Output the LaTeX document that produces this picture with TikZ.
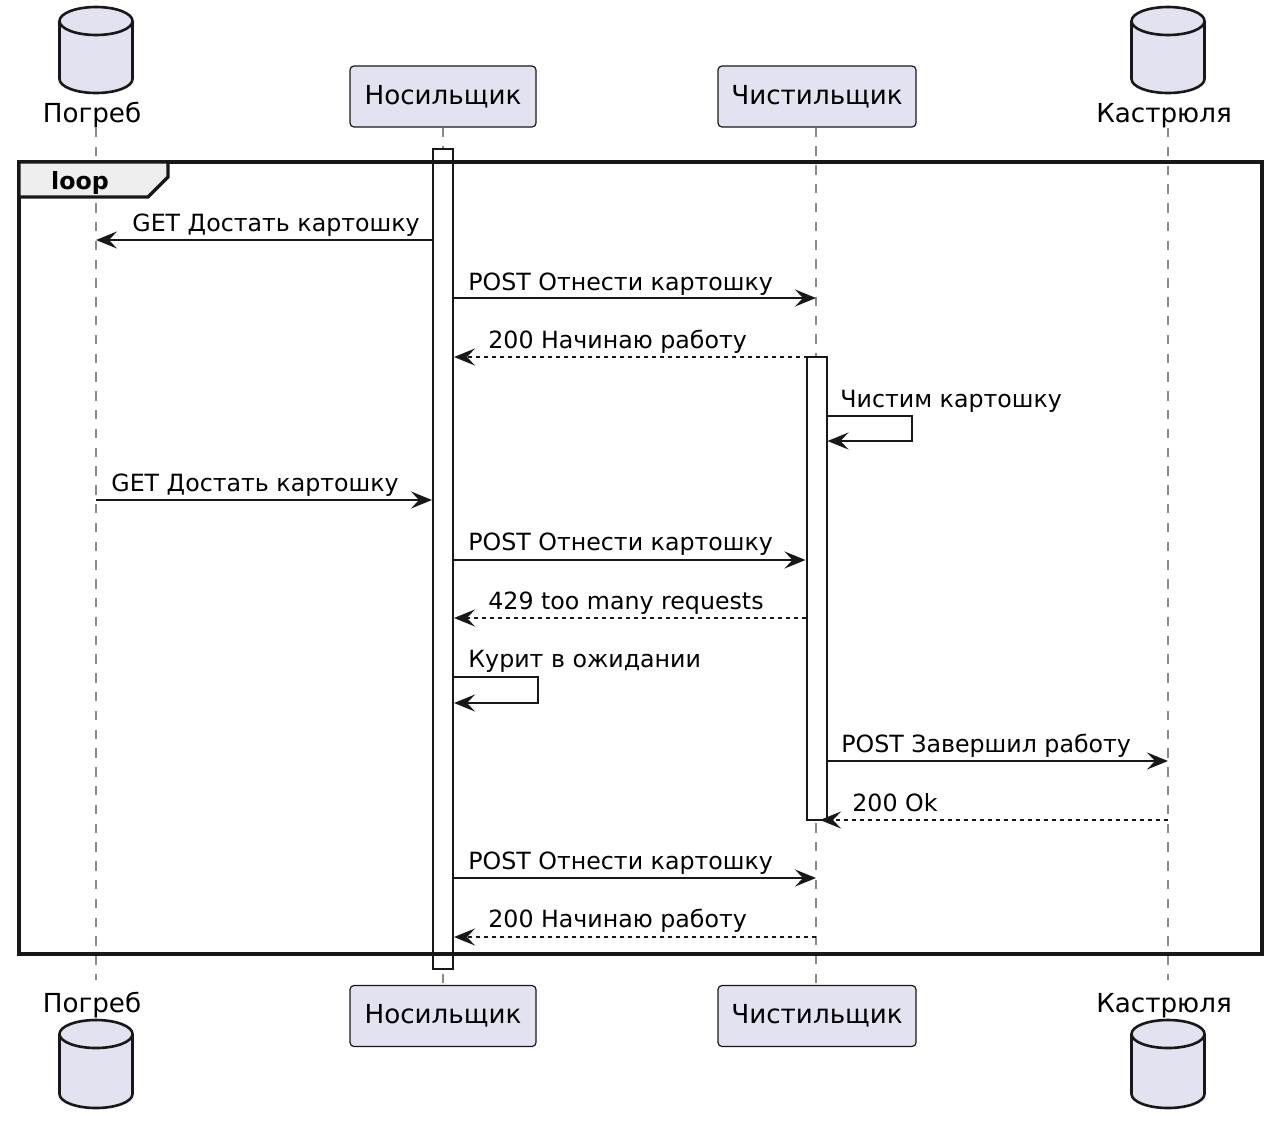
\documentclass[tikz,border=0pt]{standalone}
\usepackage{fontspec}
\setmainfont{DejaVu Sans}
\usetikzlibrary{arrows.meta,positioning}

\definecolor{partfill}{HTML}{E2E2F0}
\definecolor{linecol}{HTML}{181818}
\definecolor{lifegray}{HTML}{8A8A8A}
\definecolor{tabfill}{HTML}{EEEEEE}

\tikzset{
  partbox/.style={draw=linecol,fill=partfill,line width=0.6pt,rounded corners=2pt,
    minimum height=30.5pt,inner sep=0pt,font=\fontsize{13.1}{15}\selectfont},
  partlabel/.style={inner sep=0pt,anchor=base,font=\fontsize{13.1}{15}\selectfont},
  lifeline/.style={draw=lifegray,line width=0.9pt,dash pattern=on 4.7pt off 4.7pt},
  actbar/.style={draw=linecol,fill=white,line width=1pt,minimum width=10pt,inner sep=0pt},
  msg/.style={draw=linecol,line width=1pt,-{Stealth[length=10.5pt,width=8.5pt,inset=4pt]}},
  reply/.style={msg,dash pattern=on 2pt off 2pt},
  msglabel/.style={inner sep=0pt,anchor=base west,font=\fontsize{11.85}{14}\selectfont},
  dbline/.style={draw=linecol,fill=partfill,line width=1.3pt}
}

% database cylinder: centre x, top y, bottom y
\newcommand{\dbcyl}[3]{
  \draw[dbline] (#1-36.5,#2+14) -- (#1-36.5,#3-14)
    arc[start angle=180,end angle=360,x radius=18.25pt,y radius=7pt]
    -- (#1+36.5,#2+14)
    arc[start angle=0,end angle=180,x radius=18.25pt,y radius=7pt] -- cycle;
  \draw[dbline,fill=none] (#1-36.5,#2+14)
    arc[start angle=180,end angle=360,x radius=18.25pt,y radius=7pt];
}

\begin{document}
\begin{tikzpicture}[x=0.5pt,y=-0.5pt]
\useasboundingbox (0,0) rectangle (1268,1130);

% participants, top and bottom
\dbcyl{96}{7}{93}
\dbcyl{1168}{7}{93}
\dbcyl{96}{1020}{1108}
\dbcyl{1168}{1020}{1108}
\node[partlabel] (pogT) at (92,122) {Погреб};
\node[partlabel] (kasT) at (1164,122) {Кастрюля};
\node[partlabel] (pogB) at (92,1012) {Погреб};
\node[partlabel] (kasB) at (1164,1012) {Кастрюля};
\node[partbox,minimum width=93pt] (nosT) at (443,96.5) {Носильщик};
\node[partbox,minimum width=99pt] (chiT) at (817,96.5) {Чистильщик};
\node[partbox,minimum width=93pt] (nosB) at (443,1016) {Носильщик};
\node[partbox,minimum width=99pt] (chiB) at (817,1016) {Чистильщик};

\coordinate (pogL1) at (96,128);  \coordinate (pogL2) at (96,980);
\coordinate (kasL1) at (1168,128); \coordinate (kasL2) at (1168,980);
\coordinate (nosL) at (443,0); \coordinate (chiL) at (816,0);

% lifelines
\draw[lifeline] (pogL1) -- (pogL2);
\draw[lifeline] (kasL1) -- (kasL2);
\draw[lifeline] (nosT.south -| nosL) -- (nosB.north -| nosL);
\draw[lifeline] (chiT.south -| chiL) -- (chiB.north -| chiL);

% activations
\node[actbar,minimum height=410pt] (nosAct) at (443,559) {};
\node[actbar,minimum height=231.5pt] (chiAct) at (816.5,588.5) {};

% loop frame
\draw[draw=linecol,line width=1.6pt] (19,162) rectangle (1262,954);
\filldraw[draw=linecol,fill=tabfill,line width=1.6pt]
  (19,162) -- (168,162) -- (168,177) -- (148,197) -- (19,197) -- cycle;
\node[inner sep=0pt,anchor=base,font=\fontsize{11.85}{14}\selectfont\bfseries] (loopLbl) at (80,189) {loop};

% message rows
\foreach \r/\y in {1/240,2/298,3/357,4/416,5/500,6/560,7/618,8/677,9/761,10/820,11/878,12/937}
  \coordinate (r\r) at (0,\y);

\draw[msg] (nosAct.west |- r1) -- (pogL1 |- r1);
\draw[msg] (nosAct.east |- r2) -- (chiL |- r2);
\draw[reply] (chiL |- r3) -- (nosAct.east |- r3);
\draw[msg] (chiAct.east |- r4) -- ++(84,0) -- ++(0,25) -- ([yshift=-12.5pt]chiAct.east |- r4);
\draw[msg] (pogL1 |- r5) -- (nosAct.west |- r5);
\draw[msg] (nosAct.east |- r6) -- (chiAct.west |- r6);
\draw[reply] (chiAct.west |- r7) -- (nosAct.east |- r7);
\draw[msg] (nosAct.east |- r8) -- ++(84,0) -- ++(0,26) -- ([yshift=-13pt]nosAct.east |- r8);
\draw[msg] (chiAct.east |- r9) -- (kasL1 |- r9);
\draw[reply] (kasL1 |- r10) -- ([xshift=2pt]chiL |- r10);
\draw[msg] (nosAct.east |- r11) -- (chiL |- r11);
\draw[reply] (chiL |- r12) -- (nosAct.east |- r12);

% message texts
\foreach \x/\y/\t [count=\n] in {
  132/231/GET Достать картошку,
  468/290/POST Отнести картошку,
  488/348/200 Начинаю работу,
  840/407/Чистим картошку,
  111/491/GET Достать картошку,
  468/550/POST Отнести картошку,
  488/609/429 too many requests,
  468/667/Курит в ожидании,
  841/752/POST Завершил работу,
  852/811/200 Ok,
  468/869/POST Отнести картошку,
  488/927/200 Начинаю работу}
  \node[msglabel] (txt\n) at (\x,\y) {\t};
\end{tikzpicture}
\end{document}
